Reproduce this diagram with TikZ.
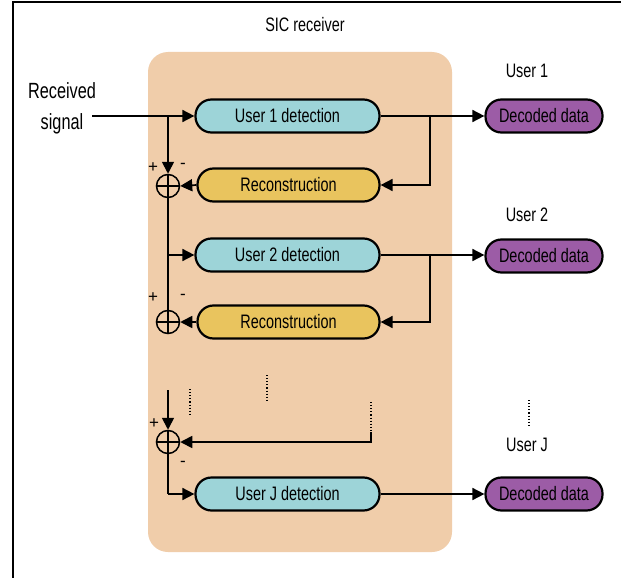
\documentclass[tikz,border=0pt]{standalone}
\usepackage{fontspec}
\setmainfont{Liberation Sans}[FakeStretch=0.74]
\newfontfamily\signfont{Liberation Sans}
\usetikzlibrary{arrows.meta}
\definecolor{peach}{RGB}{240,205,170}
\definecolor{detc}{RGB}{157,212,216}
\definecolor{recc}{RGB}{233,196,94}
\definecolor{decc}{RGB}{156,92,166}
\tikzset{
  pill/.style={draw=black, line width=2.2pt, rounded corners=16pt, minimum height=33pt, inner sep=0pt, font=\fontsize{19.5}{22}\selectfont},
  detbox/.style={pill, fill=detc, minimum width=184pt},
  recbox/.style={pill, fill=recc, minimum width=182pt},
  decbox/.style={pill, fill=decc, minimum width=117pt},
  sumc/.style={draw=black, circle, line width=1.5pt, minimum size=23pt, inner sep=0pt},
  conn/.style={line width=1.7pt},
  arr/.style={conn, -{Triangle[length=12pt,width=12pt]}},
  lbl/.style={font=\fontsize{19.5}{22}\selectfont},
  sign/.style={font=\signfont\fontsize{17}{17}\selectfont, inner sep=0pt},
  dots/.style={dotted, line width=1.1pt}
}
\begin{document}
\begin{tikzpicture}[x=1pt,y=-1pt]
\useasboundingbox (0,0) rectangle (621,578);
\fill[white] (0,0) rectangle (621,578);
% frame
\draw[line width=2.2pt] (12,2) -- (621,2);
\draw[line width=2.8pt] (13,2) -- (13,578);
% title and background
\node[lbl] (title) at (305,25) {SIC receiver};
\fill[peach, rounded corners=20pt] (148,52) rectangle (452,552);
% boxes
\node[detbox] (d1) at (287.5,116) {User 1 detection};
\node[recbox] (r1) at (288.5,185) {Reconstruction};
\node[detbox] (d2) at (287.5,255) {User 2 detection};
\node[recbox] (r2) at (288.5,322) {Reconstruction};
\node[detbox] (dJ) at (287.5,494) {User J detection};
\node[decbox] (o1) at (544,116) {Decoded data};
\node[decbox] (o2) at (544,256) {Decoded data};
\node[decbox] (oJ) at (544,494) {Decoded data};
% labels
\node[lbl, align=center, font=\fontsize{22}{31}\selectfont] (rx) at (62,108) {Received\\signal};
\node[lbl] (u1) at (527,71) {User 1};
\node[lbl] (u2) at (527,215) {User 2};
\node[lbl] (uJ) at (527,445) {User J};
% summing nodes
\node[sumc] (s1) at (168,186) {};
\node[sumc] (s2) at (168,322) {};
\node[sumc] (s3) at (168,442) {};
\foreach \s in {s1,s2,s3}{
  \draw[line width=1.5pt] (\s.north) -- (\s.south);
  \draw[line width=1.5pt] (\s.west) -- (\s.east);
}
\node[sign] (p1) at (153,168) {+};
\node[sign] (m1) at (183,166) {-};
\node[sign] (p2) at (153,298) {+};
\node[sign] (m2) at (183,297) {-};
\node[sign] (p3) at (154,424) {+};
\node[sign] (m3) at (183,464) {-};
% coordinates
\coordinate (rxe) at (92,116);
\coordinate (b0) at (168,116);
\coordinate (b1) at (168,255);
\coordinate (bJ) at (168,494);
\coordinate (t3) at (168,390);
\coordinate (f1) at (430,116);
\coordinate (f2) at (430,255);
\coordinate (k1) at (371,432);
\coordinate (k2) at (371,442);
\coordinate (k0) at (371,402);
% input
\draw[arr] (rxe) -- (d1.west);
\draw[arr] (b0) -- (s1.north);
\draw[arr] (r1.west) -- (s1.east);
\draw[conn] (s1.south) -- (b1) -- (s2.north);
\draw[arr] (b1) -- (d2.west);
\draw[arr] (r2.west) -- (s2.east);
\draw[arr] (t3) -- (s3.north);
\draw[conn] (s3.south) -- (bJ);
\draw[arr] (bJ) -- (dJ.west);
% outputs and feedback
\draw[arr] (d1.east) -- (o1.west);
\draw[arr] (f1) |- (r1.east);
\draw[arr] (d2.east) -- (o2.west |- d2.east);
\draw[arr] (f2) |- (r2.east);
\draw[arr] (dJ.east) -- (oJ.west);
\draw[arr] (k1) -- (k2) -- (s3.east);
% dotted continuation marks
\draw[dots] (k0) -- (k1);
\coordinate (dA1) at (190,389); \coordinate (dA2) at (190,415);
\coordinate (dB1) at (267,375); \coordinate (dB2) at (267,402);
\coordinate (dC1) at (529,400); \coordinate (dC2) at (529,425);
\draw[dots] (dA1) -- (dA2);
\draw[dots] (dB1) -- (dB2);
\draw[dots] (dC1) -- (dC2);
\end{tikzpicture}
\end{document}
